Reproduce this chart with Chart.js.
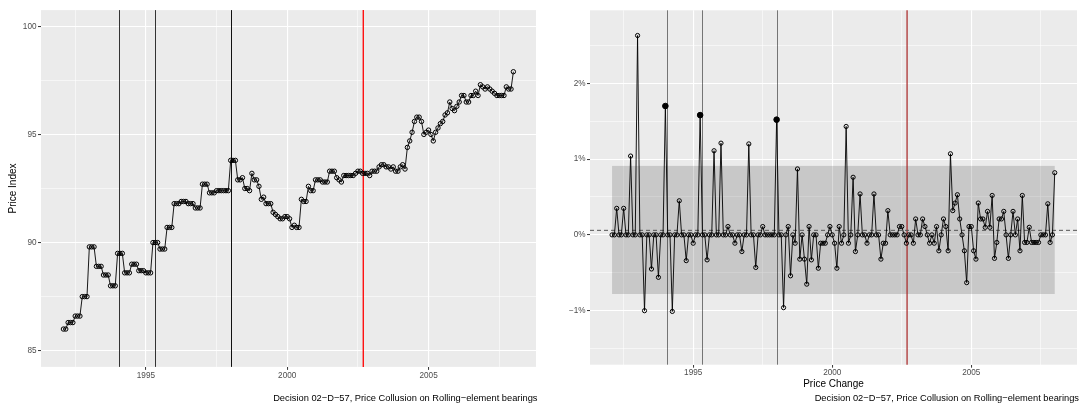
<!DOCTYPE html>
<html><head><meta charset="utf-8">
<script src="https://cdn.jsdelivr.net/npm/chart.js@4/dist/chart.umd.min.js"></script>
<style>
html,body{margin:0;padding:0;background:#fff;}
#wrap{position:relative;width:1082px;height:405px;overflow:hidden;}
canvas{position:absolute;top:0;}
</style></head><body>
<div id="wrap">
<canvas id="left" width="541" height="405" style="left:0"></canvas>
<canvas id="right" width="541" height="405" style="left:541px"></canvas>
</div>
<script>
const months = [
"1992-02","1992-03","1992-04","1992-05","1992-06","1992-07","1992-08","1992-09","1992-10","1992-11","1992-12",
"1993-01","1993-02","1993-03","1993-04","1993-05","1993-06","1993-07","1993-08","1993-09","1993-10","1993-11","1993-12",
"1994-01","1994-02","1994-03","1994-04","1994-05","1994-06","1994-07","1994-08","1994-09","1994-10","1994-11","1994-12",
"1995-01","1995-02","1995-03","1995-04","1995-05","1995-06","1995-07","1995-08","1995-09","1995-10","1995-11","1995-12",
"1996-01","1996-02","1996-03","1996-04","1996-05","1996-06","1996-07","1996-08","1996-09","1996-10","1996-11","1996-12",
"1997-01","1997-02","1997-03","1997-04","1997-05","1997-06","1997-07","1997-08","1997-09","1997-10","1997-11","1997-12",
"1998-01","1998-02","1998-03","1998-04","1998-05","1998-06","1998-07","1998-08","1998-09","1998-10","1998-11","1998-12",
"1999-01","1999-02","1999-03","1999-04","1999-05","1999-06","1999-07","1999-08","1999-09","1999-10","1999-11","1999-12",
"2000-01","2000-02","2000-03","2000-04","2000-05","2000-06","2000-07","2000-08","2000-09","2000-10","2000-11","2000-12",
"2001-01","2001-02","2001-03","2001-04","2001-05","2001-06","2001-07","2001-08","2001-09","2001-10","2001-11","2001-12",
"2002-01","2002-02","2002-03","2002-04","2002-05","2002-06","2002-07","2002-08","2002-09","2002-10","2002-11","2002-12",
"2003-01","2003-02","2003-03","2003-04","2003-05","2003-06","2003-07","2003-08","2003-09","2003-10","2003-11","2003-12",
"2004-01","2004-02","2004-03","2004-04","2004-05","2004-06","2004-07","2004-08","2004-09","2004-10","2004-11","2004-12",
"2005-01","2005-02","2005-03","2005-04","2005-05","2005-06","2005-07","2005-08","2005-09","2005-10","2005-11","2005-12",
"2006-01","2006-02","2006-03","2006-04","2006-05","2006-06","2006-07","2006-08","2006-09","2006-10","2006-11","2006-12",
"2007-01","2007-02","2007-03","2007-04","2007-05","2007-06","2007-07","2007-08","2007-09","2007-10","2007-11","2007-12",
"2008-01"
];

const priceIndex = [
86.0,86.0,86.3,86.3,86.3,86.6,86.6,86.6,87.5,87.5,87.5,
89.8,89.8,89.8,88.9,88.9,88.9,88.5,88.5,88.5,88.0,88.0,88.0,
89.5,89.5,89.5,88.6,88.6,88.6,89.0,89.0,89.0,88.7,88.7,88.7,
88.6,88.6,88.6,90.0,90.0,90.0,89.7,89.7,89.7,90.7,90.7,90.7,
91.8,91.8,91.8,91.9,91.9,91.9,91.8,91.8,91.8,91.6,91.6,91.6,
92.7,92.7,92.7,92.3,92.3,92.3,92.4,92.4,92.4,92.4,92.4,92.4,
93.8,93.8,93.8,92.9,92.9,93.0,92.5,92.5,92.4,93.2,92.9,92.9,
92.6,92.0,92.1,91.8,91.8,91.8,91.4,91.3,91.2,91.1,91.1,91.2,
91.2,91.1,90.7,90.8,90.7,90.7,92.0,91.9,91.9,92.6,92.4,92.4,
92.9,92.9,92.9,92.8,92.8,92.8,93.3,93.3,93.3,93.0,92.9,92.8,
93.1,93.1,93.1,93.1,93.1,93.2,93.3,93.3,93.2,93.2,93.2,93.1,
93.3,93.3,93.3,93.5,93.6,93.6,93.5,93.5,93.4,93.5,93.3,93.3,
93.5,93.6,93.4,94.4,94.7,95.1,95.6,95.8,95.8,95.6,95.0,95.1,
95.2,95.0,94.7,95.1,95.3,95.5,95.6,95.9,96.0,96.5,96.2,96.1,
96.3,96.5,96.8,96.8,96.5,96.5,96.8,96.8,97.0,96.8,97.3,97.2,
97.1,97.2,97.1,97.0,96.9,96.8,96.8,96.8,96.8,97.2,97.1,97.1,
97.9
];

const priceChange = [
0,0,0.35,0,0,0.35,0,0,1.04,0,0,
2.63,0,0,-1.00,0,0,-0.45,0,0,-0.56,0,0,
1.70,0,0,-1.01,0,0,0.45,0,0,-0.34,0,0,
-0.11,0,0,1.58,0,0,-0.33,0,0,1.11,0,0,
1.21,0,0,0.11,0,0,-0.11,0,0,-0.22,0,0,
1.20,0,0,-0.43,0,0,0.11,0,0,0,0,0,
1.52,0,0,-0.96,0,0.11,-0.54,0,-0.11,0.87,-0.32,0,
-0.32,-0.65,0.11,-0.33,0,0,-0.44,-0.11,-0.11,-0.11,0,0.11,
0,-0.11,-0.44,0.11,-0.11,0,1.43,-0.11,0,0.76,-0.22,0,
0.54,0,0,-0.11,0,0,0.54,0,0,-0.32,-0.11,-0.11,
0.32,0,0,0,0,0.11,0.11,0,-0.11,0,0,-0.11,
0.21,0,0,0.21,0.11,0,-0.11,0,-0.11,0.11,-0.21,0,
0.21,0.11,-0.21,1.07,0.32,0.42,0.53,0.21,0,-0.21,-0.63,0.11,
0.11,-0.21,-0.32,0.42,0.21,0.21,0.10,0.31,0.10,0.52,-0.31,-0.10,
0.21,0.21,0.31,0,-0.31,0,0.31,0,0.21,-0.21,0.52,-0.10,
-0.10,0.10,-0.10,-0.10,-0.10,-0.10,0,0,0,0.41,-0.10,0,
0.82
];

const eventLines = [1994.06, 1995.31, 1998.0];
const decisionLine = 2002.69;
const highlightMonths = ["1994-01", "1995-04", "1998-01"];
const xMajorTicks = [1995, 2000, 2005];
const xMinorTicks = [1992.5, 1997.5, 2002.5, 2007.5];
const indexMajorTicks = [85, 90, 95, 100];
const indexMinorTicks = [87.5, 92.5, 97.5];
const changeMajorTicks = [-1, 0, 1, 2];
const changeMinorTicks = [-1.5, -0.5, 0.5, 1.5, 2.5];
const bandUpper = 0.91;
const bandLower = -0.78;
const meanChange = 0.06;
const leftYTitle = "Price Index";
const rightXTitle = "Price Change";
const captionText = "Decision 02\u2212D\u221257, Price Collusion on Rolling\u2212element bearings";

const FONT = "'Liberation Sans', Arial, Helvetica, sans-serif";
Chart.defaults.font.family = FONT;

function toYear(s) { return +s.slice(0, 4) + (+s.slice(5, 7) - 1) / 12; }
function makeTicks(major, minor) {
  return minor.map(v => ({value: v, minor: true})).concat(major.map(v => ({value: v, minor: false})))
    .sort((a, b) => a.value - b.value);
}
const gridOpts = {
  color: '#FFFFFF',
  lineWidth: c => (c.tick && c.tick.minor) ? 0.55 : 1.1,
  tickColor: c => (c.tick && c.tick.minor) ? 'rgba(0,0,0,0)' : '#333333',
  tickWidth: 1,
  tickLength: 3,
  drawTicks: true
};
const tickFont = {size: 8.2, family: FONT};

const bgPlugin = {
  id: 'panelBg',
  beforeDraw(chart) {
    const {ctx, chartArea: a} = chart;
    ctx.save();
    ctx.fillStyle = '#EBEBEB';
    ctx.fillRect(a.left, a.top, a.right - a.left, a.bottom - a.top);
    ctx.restore();
  }
};
function captionPlugin(rightX) {
  return {
    id: 'caption',
    afterDraw(chart) {
      const ctx = chart.ctx;
      ctx.save();
      ctx.font = '9.3px ' + FONT;
      ctx.fillStyle = '#000000';
      ctx.textAlign = 'right';
      ctx.textBaseline = 'middle';
      ctx.fillText(captionText, rightX, 398);
      ctx.restore();
    }
  };
}
function vline(chart, xv, color, width, snap) {
  const {ctx, chartArea: a, scales: {x}} = chart;
  let px = x.getPixelForValue(xv);
  if (snap) px = Math.round(px) + 0.5;
  ctx.save();
  ctx.strokeStyle = color;
  ctx.lineWidth = width;
  ctx.beginPath();
  ctx.moveTo(px, a.top);
  ctx.lineTo(px, a.bottom);
  ctx.stroke();
  ctx.restore();
}

const xs = months.map(toYear);
const xMin = 1991.29, xMax = 2008.8;

// LEFT PANEL
new Chart(document.getElementById('left'), {
  type: 'line',
  data: {
    datasets: [{
      data: priceIndex.map((v, i) => ({x: xs[i], y: v})),
      borderColor: '#000000',
      borderWidth: 0.9,
      pointRadius: 2.2,
      pointBorderWidth: 1,
      pointBorderColor: '#000000',
      pointBackgroundColor: 'rgba(0,0,0,0)',
      tension: 0
    }]
  },
  options: {
    responsive: false,
    animation: false,
    devicePixelRatio: 1,
    layout: {padding: {top: 10.1, right: 3.5, bottom: 0, left: 0}},
    plugins: {legend: {display: false}, tooltip: {enabled: false}},
    scales: {
      x: {
        type: 'linear', min: xMin, max: xMax,
        afterBuildTicks: s => { s.ticks = makeTicks(xMajorTicks, xMinorTicks); },
        afterFit: s => { s.height = 38.1; },
        grid: gridOpts,
        border: {display: false},
        ticks: {autoSkip: false, maxRotation: 0, padding: 0.5, color: '#4D4D4D', font: tickFont,
          callback: (v, i, t) => t[i].minor ? '' : String(v)}
      },
      y: {
        type: 'linear', min: 84.25, max: 100.75,
        afterBuildTicks: s => { s.ticks = makeTicks(indexMajorTicks, indexMinorTicks); },
        afterFit: s => { s.width = 41; },
        grid: gridOpts,
        border: {display: false},
        title: {display: true, text: leftYTitle, color: '#000000', font: {size: 10, family: FONT}, padding: {top: 7.3, bottom: 0}},
        ticks: {autoSkip: false, padding: 1.5, color: '#4D4D4D', font: tickFont,
          callback: (v, i, t) => t[i].minor ? '' : String(v)}
      }
    }
  },
  plugins: [bgPlugin, {
    id: 'refLeft',
    beforeDatasetsDraw(chart) {
      vline(chart, eventLines[0], '#333333', 1, true);
      vline(chart, eventLines[1], '#333333', 1, true);
      vline(chart, eventLines[2], '#111111', 1, true);
      vline(chart, decisionLine, '#FF0000', 1.3, false);
    }
  }, captionPlugin(537.5)]
});

// RIGHT PANEL
new Chart(document.getElementById('right'), {
  type: 'line',
  data: {
    datasets: [{
      data: priceChange.map((v, i) => ({x: xs[i], y: v})),
      borderColor: '#000000',
      borderWidth: 0.9,
      pointRadius: c => highlightMonths.includes(months[c.dataIndex]) ? 2.8 : 2.1,
      pointBorderWidth: 1,
      pointBorderColor: '#000000',
      pointBackgroundColor: c => highlightMonths.includes(months[c.dataIndex]) ? '#000000' : 'rgba(0,0,0,0)',
      tension: 0
    }]
  },
  options: {
    responsive: false,
    animation: false,
    devicePixelRatio: 1,
    layout: {padding: {top: 10.3, right: 0, bottom: 0, left: 0}},
    plugins: {legend: {display: false}, tooltip: {enabled: false}},
    scales: {
      x: {
        type: 'linear', min: xMin, max: xMax,
        afterBuildTicks: s => { s.ticks = makeTicks(xMajorTicks, xMinorTicks); },
        afterFit: s => { s.height = 40.3; },
        grid: gridOpts,
        border: {display: false},
        title: {display: true, text: rightXTitle, color: '#000000', font: {size: 10, family: FONT}, padding: {top: 0, bottom: 15}},
        ticks: {autoSkip: false, maxRotation: 0, padding: 0.5, color: '#4D4D4D', font: tickFont,
          callback: (v, i, t) => t[i].minor ? '' : String(v)}
      },
      y: {
        type: 'linear', min: -1.7125, max: 2.9625,
        afterBuildTicks: s => { s.ticks = makeTicks(changeMajorTicks, changeMinorTicks); },
        afterFit: s => { s.width = 49; },
        grid: gridOpts,
        border: {display: false},
        ticks: {autoSkip: false, padding: 1.5, color: '#4D4D4D', font: tickFont,
          callback: (v, i, t) => t[i].minor ? '' : (v < 0 ? '\u2212' + Math.abs(v) + '%' : v + '%')}
      }
    }
  },
  plugins: [bgPlugin, {
    id: 'refRight',
    beforeDatasetsDraw(chart) {
      const {ctx, chartArea: a, scales: {x, y}} = chart;
      const x0 = x.getPixelForValue(xs[0]);
      const x1 = x.getPixelForValue(xs[xs.length - 1]);
      const y0 = y.getPixelForValue(bandUpper);
      const y1 = y.getPixelForValue(bandLower);
      ctx.save();
      ctx.fillStyle = 'rgba(0,0,0,0.15)';
      ctx.fillRect(x0, y0, x1 - x0, y1 - y0);
      ctx.restore();
      eventLines.forEach(v => vline(chart, v, 'rgba(0,0,0,0.5)', 1, true));
      vline(chart, decisionLine, '#A82424', 1.2, false);
      const ym = y.getPixelForValue(meanChange);
      ctx.save();
      ctx.strokeStyle = '#555555';
      ctx.lineWidth = 1;
      ctx.setLineDash([4, 3]);
      ctx.beginPath();
      ctx.moveTo(a.left, ym);
      ctx.lineTo(a.right, ym);
      ctx.stroke();
      ctx.restore();
    }
  }, captionPlugin(538)]
});
</script>
</body></html>
